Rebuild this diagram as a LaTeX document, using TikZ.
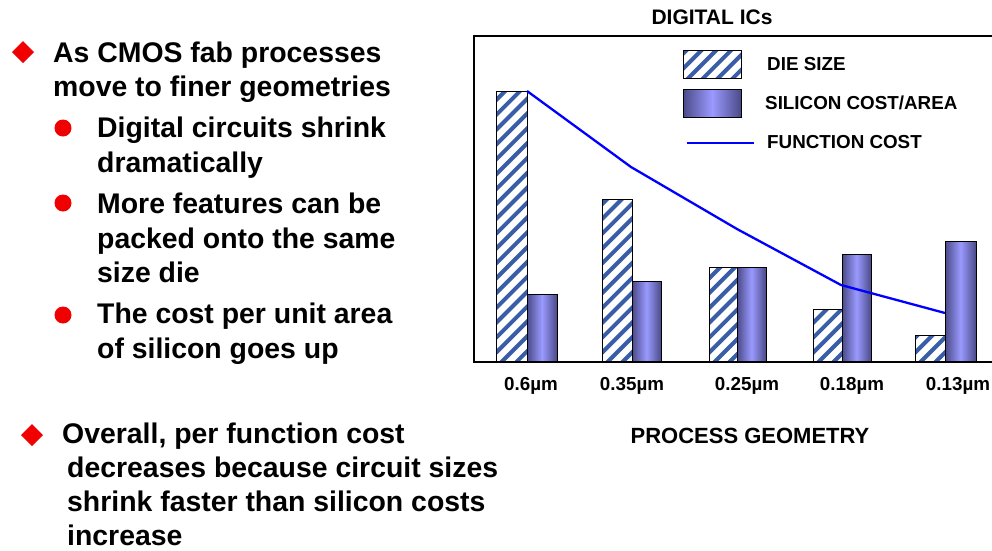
\documentclass[tikz,border=0pt]{standalone}
\usepackage{fontspec}
\setmainfont{Liberation Sans}
\definecolor{stripe}{HTML}{3A5DA8}
\definecolor{baredge}{HTML}{4A4A88}
\definecolor{barmid}{HTML}{9A9AFF}
\definecolor{bulletred}{HTML}{F00000}
\tikzset{
  bigtxt/.style={anchor=base west, inner sep=0pt, font=\fontsize{28.4}{34}\selectfont\bfseries},
  charttxt/.style={inner sep=0pt, font=\fontsize{18.8}{22}\selectfont\bfseries},
  stripeline/.style={stripe, line width=4pt},
  hatchborder/.style={draw=black, line width=1pt},
  solidbar/.style={left color=baredge, right color=baredge, middle color=barmid, draw=black, line width=1pt},
  diamondbullet/.style={fill=bulletred},
  dotbullet/.style={fill=bulletred, draw=none},
  costline/.style={blue, line width=2.3pt, line join=round},
  frame/.style={line width=1.5pt}
}
% #1 left x, #2 bottom y, #3 right x, #4 top y
\newcommand{\myhatchbox}[4]{%
  \begin{scope}
    \clip (#1,#2) rectangle (#3,#4);
    \fill[white] (#1,#2) rectangle (#3,#4);
    \foreach \k in {-340,-325.15,...,70} {
      \draw[stripeline] (#1+\k,#2+4) -- ++(420,-420);
    }
  \end{scope}
  \draw[hatchborder] (#1,#2) rectangle (#3,#4);
}
\begin{document}
\begin{tikzpicture}[x=1pt,y=-1pt]
\useasboundingbox[fill=white] (0,0) rectangle (992,550);

% ---- left text ----
\fill[diamondbullet] (23,41) -- (34,52) -- (23,63) -- (12,52) -- cycle;
\node[bigtxt] (a1) at (53,62) {As CMOS fab processes};
\node[bigtxt] (a2) at (53,96) {move to finer geometries};

\fill[dotbullet] (63,128) circle (8.5);
\node[bigtxt] (b1) at (97,137) {Digital circuits shrink};
\node[bigtxt] (b2) at (97,172) {dramatically};

\fill[dotbullet] (63,203) circle (8.5);
\node[bigtxt] (c1) at (97,213) {More features can be};
\node[bigtxt] (c2) at (97,248) {packed onto the same};
\node[bigtxt] (c3) at (97,282) {size die};

\fill[dotbullet] (63,315) circle (8.5);
\node[bigtxt] (d1) at (97,323) {The cost per unit area};
\node[bigtxt] (d2) at (97,358) {of silicon goes up};

\fill[diamondbullet] (32,424) -- (43,435) -- (32,446) -- (21,435) -- cycle;
\node[bigtxt] (e1) at (62,443) {Overall, per function cost};
\node[bigtxt] (e2) at (67,477) {decreases because circuit sizes};
\node[bigtxt] (e3) at (67,511) {shrink faster than silicon costs};
\node[bigtxt] (e4) at (67,545) {increase};

% ---- chart ----
\node[charttxt, font=\fontsize{21}{25}\selectfont\bfseries, anchor=base] (title) at (712,24) {DIGITAL ICs};

% bars
\myhatchbox{496}{362}{527}{91}
\draw[solidbar] (527,362) rectangle (557,294);
\myhatchbox{602}{362}{632}{199}
\draw[solidbar] (632,362) rectangle (661,281);
\myhatchbox{709}{362}{737}{267}
\draw[solidbar] (737,362) rectangle (766,267);
\myhatchbox{813}{362}{842}{309}
\draw[solidbar] (842,362) rectangle (871,254);
\myhatchbox{915}{362}{945}{335}
\draw[solidbar] (945,362) rectangle (976,241);

% function cost line
\coordinate (p1) at (527,91);
\coordinate (p2) at (631,167);
\coordinate (p3) at (737,229);
\coordinate (p4) at (841,285);
\coordinate (p5) at (945,313);
\draw[costline] (p1) -- (p2) -- (p3) -- (p4) -- (p5);

% frame
\draw[frame] (992,36) -- (474,36) -- (474,362) -- (992,362);

% legend
\myhatchbox{683}{78}{741}{50}
\draw[solidbar] (683,89) rectangle (741,117);
\coordinate (l1) at (687,143);
\coordinate (l2) at (754,143);
\draw[costline] (l1) -- (l2);
\node[charttxt, anchor=west] (ld) at (767,64) {DIE SIZE};
\node[charttxt, anchor=west] (ls) at (765,103) {SILICON COST/AREA};
\node[charttxt, anchor=west] (lf) at (767,142) {FUNCTION COST};

% axis labels
\node[charttxt] (x1) at (531,386) {0.6µm};
\node[charttxt] (x2) at (632,386) {0.35µm};
\node[charttxt] (x3) at (747,386) {0.25µm};
\node[charttxt] (x4) at (852,386) {0.18µm};
\node[charttxt] (x5) at (958,386) {0.13µm};
\node[charttxt, font=\fontsize{22}{26}\selectfont\bfseries] (xt) at (750,436) {PROCESS GEOMETRY};
\end{tikzpicture}
\end{document}
